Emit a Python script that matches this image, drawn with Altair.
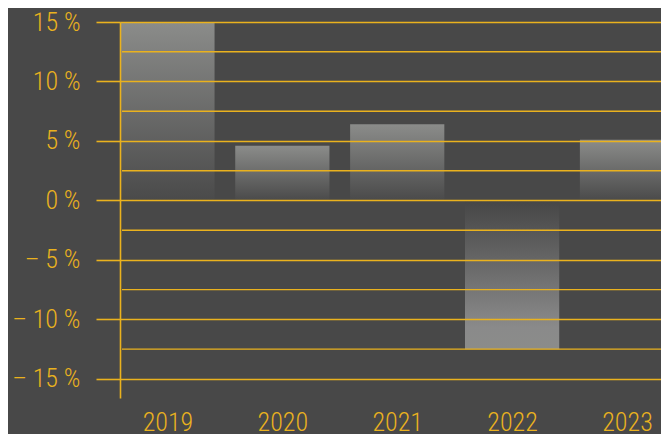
import altair as alt
import pandas as pd

years = [2019, 2020, 2021, 2022, 2023]
values = [15.0, 4.6, 6.4, -12.5, 5.1]
major_ticks = [15, 10, 5, 0, -5, -10, -15]
minor_ticks = [12.5, 7.5, 2.5, -2.5, -7.5, -12.5]

BG = "#484848"
YEL = "#eab21e"
FONT = "Roboto Condensed, Liberation Sans Narrow, Roboto, sans-serif"

df = pd.DataFrame({"year": years, "value": values})
df["x0"] = df["year"] - 0.41
df["x1"] = df["year"] + 0.41
df["zero"] = 0
minor_df = pd.DataFrame({"v": minor_ticks})

W = 541
xscale = alt.Scale(domain=[2018.587, 2023.296], nice=False, zero=False)
yscale = alt.Scale(domain=[-16.6, 15], nice=False)

pos_grad = alt.Gradient(
    gradient="linear", x1=0, y1=0, x2=0, y2=1,
    stops=[alt.GradientStop(offset=0, color="#8b8c8a"),
           alt.GradientStop(offset=1, color="#4a4a4a")],
)
neg_grad = alt.Gradient(
    gradient="linear", x1=0, y1=0, x2=0, y2=1,
    stops=[alt.GradientStop(offset=0, color="#464646"),
           alt.GradientStop(offset=0.85, color="#8a8a8a"),
           alt.GradientStop(offset=1, color="#8b8c8a")],
)

label_expr = "datum.value < 0 ? '\u2013 ' + abs(datum.value) + ' %' : datum.value + ' %'"

xaxis = alt.Axis(values=years, format="d", title=None, domain=False, ticks=False,
                 grid=False, labelColor=YEL, labelFontSize=26, labelFont=FONT,
                 labelPadding=11, labelFontWeight=300)
yaxis = alt.Axis(values=major_ticks, title=None, labelExpr=label_expr,
                 domain=True, domainColor=YEL, domainWidth=1.6,
                 ticks=True, tickColor=YEL, tickSize=24, tickWidth=1.6,
                 grid=True, gridColor=YEL, gridWidth=1.6, gridOpacity=1,
                 labelColor=YEL, labelFontSize=26, labelFont=FONT,
                 labelFontWeight=300, labelPadding=16, zindex=1)

base = alt.Chart(df)

pos = base.transform_filter("datum.value >= 0").mark_bar(
    color=pos_grad, clip=True
).encode(
    x=alt.X("x0:Q", scale=xscale, axis=xaxis),
    x2="x1:Q",
    y=alt.Y("value:Q", scale=yscale, axis=yaxis),
    y2="zero:Q",
)

neg = base.transform_filter("datum.value < 0").mark_bar(
    color=neg_grad, clip=True
).encode(
    x=alt.X("x0:Q", scale=xscale),
    x2="x1:Q",
    y=alt.Y("zero:Q", scale=yscale),
    y2="value:Q",
)

minor = alt.Chart(minor_df).mark_rule(color=YEL, strokeWidth=1.3).encode(
    y=alt.Y("v:Q", scale=yscale),
    x=alt.value(2),
    x2=alt.value(W),
)

chart = alt.layer(pos, neg, minor).properties(
    width=W, height=376,
    autosize=alt.AutoSizeParams(type="none"),
    padding={"left": 112, "top": 14, "right": 0, "bottom": 36},
    background=BG,
).configure_view(stroke=None)

chart.save("out.html", embed_options={"renderer": "svg", "actions": False})
